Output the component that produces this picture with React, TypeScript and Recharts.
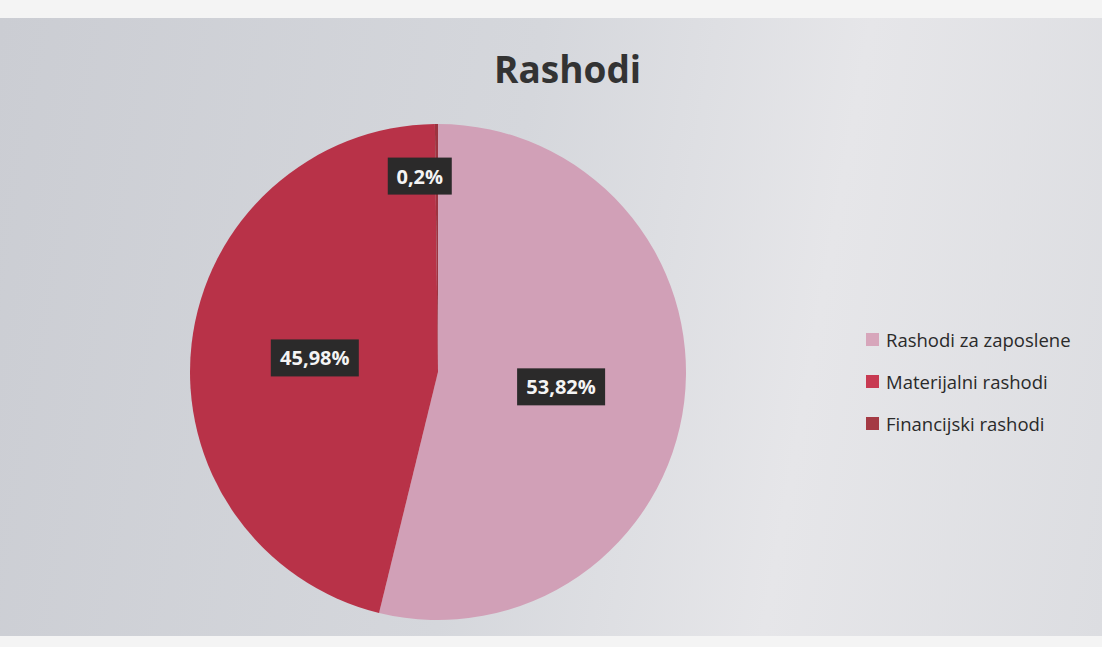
import React from 'react';
import { PieChart, Pie, Cell, Legend } from 'recharts';

// Rashodi – udjeli po vrsti rashoda (%)
const categories = ['Rashodi za zaposlene', 'Materijalni rashodi', 'Financijski rashodi'];
const shares = [53.82, 45.98, 0.2];
const sliceColors = ['#d1a0b7', '#b83248', '#9c3440'];
const legendColors = ['#d7a6bb', '#c83a52', '#a43a44'];

const chartData = categories.map((name, i) => ({ name, value: shares[i] }));

const RADIAN = Math.PI / 180;

const renderLabel = (props: any) => {
  const { cx, cy, midAngle, outerRadius, value } = props;
  const small = value < 1;
  const r = outerRadius * (small ? 0.79 : 0.5);
  const x = cx + r * Math.cos(-midAngle * RADIAN) - (small ? 17 : 0);
  const y = cy + r * Math.sin(-midAngle * RADIAN);
  const text = String(value).replace('.', ',') + '%';
  const w = text.length * 12 + 16;
  const h = 37;
  return (
    <g>
      <rect x={x - w / 2} y={y - h / 2} width={w} height={h} fill="#2b2a2a" />
      <text
        x={x}
        y={y}
        fill="#f4f4f4"
        textAnchor="middle"
        dominantBaseline="central"
        fontFamily="'Open Sans', sans-serif"
        fontWeight={700}
        fontSize={20}
      >
        {text}
      </text>
    </g>
  );
};

const renderLegend = () => (
  <div style={{ fontFamily: "'Open Sans', sans-serif" }}>
    {categories.map((name, i) => (
      <div key={name} style={{ display: 'flex', alignItems: 'center', height: 42 }}>
        <span style={{ width: 13, height: 13, background: legendColors[i], marginRight: 7 }} />
        <span style={{ fontSize: 18.5, color: '#2a2a2a' }}>{name}</span>
      </div>
    ))}
  </div>
);

export default function App() {
  return (
    <div style={{ position: 'absolute', left: 0, top: 0, width: 1102, height: 647, background: '#f4f4f4', overflow: 'hidden' }}>
      <div
        style={{
          position: 'absolute',
          left: 0,
          top: 18,
          width: 1102,
          height: 618,
          background: 'linear-gradient(100deg, #cbcdd3 0%, #d5d7dc 45%, #e6e6e9 72%, #dcdde1 100%)',
        }}
      />
      <div
        style={{
          position: 'absolute',
          left: 494,
          width: 146,
          top: 43,
          textAlign: 'center',
          fontFamily: "'Open Sans', sans-serif",
          fontWeight: 700,
          fontSize: 37,
          color: '#333',
          whiteSpace: 'nowrap',
        }}
      >
        Rashodi
      </div>
      <div style={{ position: 'absolute', left: 0, top: 0 }}>
        <PieChart width={1102} height={647}>
          <Pie
            data={chartData}
            dataKey="value"
            nameKey="name"
            cx={433}
            cy={367}
            outerRadius={248}
            startAngle={90}
            endAngle={-270}
            stroke="none"
            label={renderLabel}
            labelLine={false}
            isAnimationActive={false}
          >
            {chartData.map((d, i) => (
              <Cell key={d.name} fill={sliceColors[i]} />
            ))}
          </Pie>
          <Legend
            layout="vertical"
            content={renderLegend}
            wrapperStyle={{ left: 866, top: 318, width: 236 }}
          />
        </PieChart>
      </div>
    </div>
  );
}
